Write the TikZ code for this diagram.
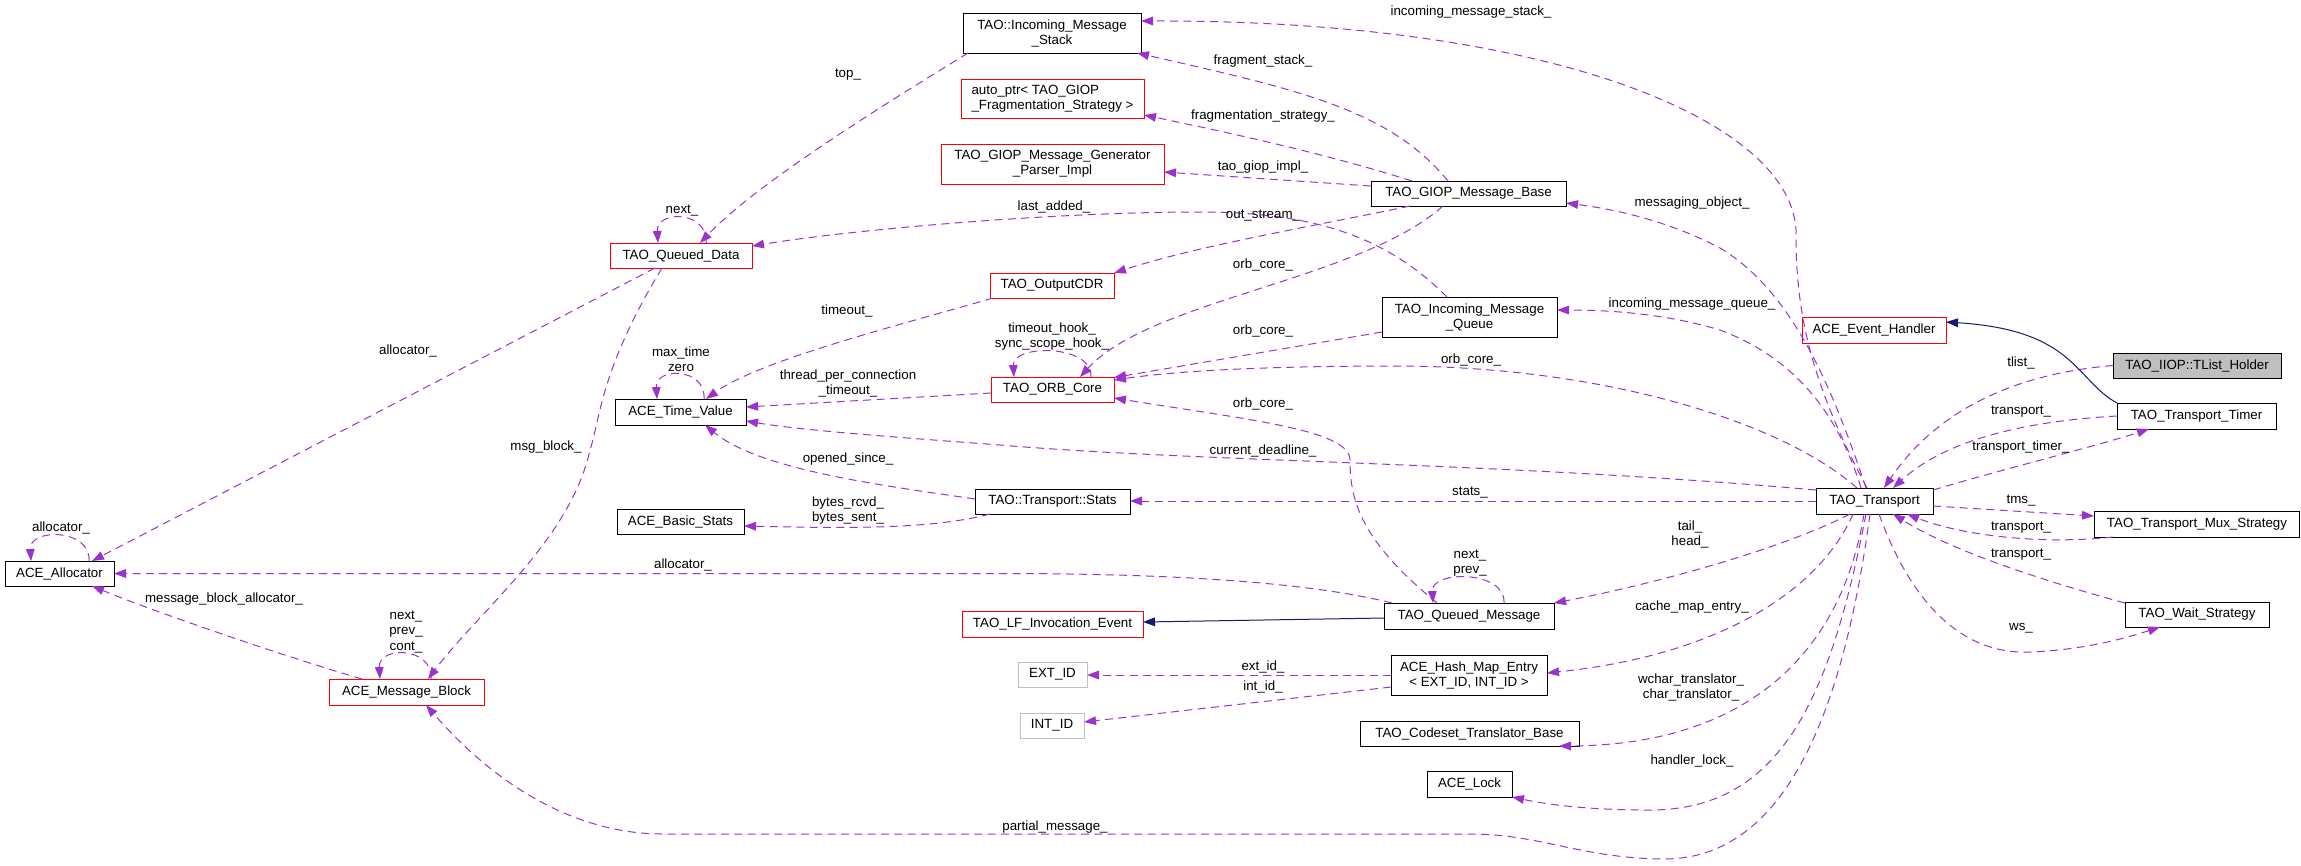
\documentclass[tikz,border=0pt]{standalone}
\usepackage{fontspec}
\setmainfont{Liberation Sans}
\usetikzlibrary{arrows.meta,calc}
\definecolor{edgec}{HTML}{9A32CD}
\definecolor{inhc}{HTML}{191970}
\definecolor{redb}{HTML}{FF0000}
\definecolor{grayb}{HTML}{BFBFBF}
\tikzset{
  box/.style={draw=black, line width=0.75pt, fill=white, inner sep=1pt, align=center},
  rbox/.style={box, draw=redb},
  gbox/.style={box, draw=grayb},
  sz/.style 2 args={minimum width=#1*0.75pt, minimum height=#2*0.75pt},
  dep/.style={draw=edgec, line width=0.75pt, dash pattern=on 6pt off 4pt, -{Triangle[length=9pt,width=6.5pt,fill=edgec]}},
  inh/.style={draw=inhc, line width=0.75pt, -{Triangle[length=9pt,width=6.5pt,fill=inhc]}},
  lbl/.style={inner sep=0pt, align=center}
}
\begin{document}
\begin{tikzpicture}[x=0.75pt,y=-0.75pt, font=\fontsize{10pt}{11.25pt}\selectfont]
\useasboundingbox (0,0) rectangle (2301,865);
% nodes
\node[box, sz={178}{40}] (stack) at (1052,33) {TAO::Incoming\_Message\\\_Stack};
\node[rbox, sz={183}{39}, align=left] (autoptr) at (1052.5,98.5) {auto\_ptr< TAO\_GIOP\\\_Fragmentation\_Strategy >};
\node[rbox, sz={223}{40}] (genparser) at (1052.5,164) {TAO\_GIOP\_Message\_Generator\\\_Parser\_Impl};
\node[box, sz={195}{25}] (giopbase) at (1468.5,193.5) {TAO\_GIOP\_Message\_Base};
\node[rbox, sz={142}{25}] (qdata) at (681,255.5) {TAO\_Queued\_Data};
\node[rbox, sz={124}{25}] (outcdr) at (1052,285.5) {TAO\_OutputCDR};
\node[box, sz={175}{40}] (imq) at (1469.5,317) {TAO\_Incoming\_Message\\\_Queue};
\node[rbox, sz={123}{25}] (orbcore) at (1052.5,389.5) {TAO\_ORB\_Core};
\node[box, sz={131}{26}] (timevalue) at (680.5,412) {ACE\_Time\_Value};
\node[box, sz={127}{25}] (basicstats) at (680.5,521.5) {ACE\_Basic\_Stats};
\node[box, sz={155}{25}] (stats) at (1052.5,501.5) {TAO::Transport::Stats};
\node[box, sz={109}{25}] (allocator) at (59.5,573.5) {ACE\_Allocator};
\node[rbox, sz={155}{26}] (msgblock) at (406.5,692) {ACE\_Message\_Block};
\node[rbox, sz={181}{26}] (lfevent) at (1052.5,624) {TAO\_LF\_Invocation\_Event};
\node[box, sz={170}{26}] (qmsg) at (1469,616) {TAO\_Queued\_Message};
\node[gbox, sz={69}{25}] (extid) at (1052.5,674.5) {EXT\_ID};
\node[box, sz={156}{40}] (hashentry) at (1469,675) {ACE\_Hash\_Map\_Entry\\< EXT\_ID, INT\_ID >};
\node[gbox, sz={64}{25}] (intid) at (1052,725.5) {INT\_ID};
\node[box, sz={219}{25}] (codeset) at (1469.5,733.5) {TAO\_Codeset\_Translator\_Base};
\node[box, sz={85}{26}] (acelock) at (1469.5,784) {ACE\_Lock};
\node[rbox, sz={144}{26}] (eventhandler) at (1874,330) {ACE\_Event\_Handler};
\node[box, sz={168}{25}, fill=grayb] (tlist) at (2197,365.5) {TAO\_IIOP::TList\_Holder};
\node[box, sz={159}{26}] (timer) at (2196.5,416) {TAO\_Transport\_Timer};
\node[box, sz={117}{26}] (transport) at (1874.5,501) {TAO\_Transport};
\node[box, sz={205}{26}] (mux) at (2197,524) {TAO\_Transport\_Mux\_Strategy};
\node[box, sz={144}{25}] (wait) at (2197,614.5) {TAO\_Wait\_Strategy};
% edges
\draw[dep] ($(transport)+(-7.5,-13)$) .. controls (1815,390) and (1795,320) .. (1796,230) .. controls (1790,120) and (1550,20) .. ($(stack)+(89,-12)$);
\draw[dep] ($(giopbase)+(-20.5,-12.5)$) .. controls (1390,110) and (1300,90) .. ($(stack)+(85,20)$);
\draw[dep] ($(giopbase)+(-56.5,-12.5)$) .. controls (1330,155) and (1240,135) .. ($(autoptr)+(91.5,16.5)$);
\draw[dep] ($(giopbase)+(-97.5,-7.5)$) -- ($(genparser)+(111.5,8)$);
\draw[dep] ($(giopbase)+(-58.5,12.5)$) .. controls (1320,225) and (1200,245) .. ($(outcdr)+(62,-12.5)$);
\draw[dep] ($(giopbase)+(-25.5,12.5)$) .. controls (1360,280) and (1150,300) .. ($(orbcore)+(27.5,-12.5)$);
\draw[dep] ($(imq)+(-22.5,-20)$) .. controls (1390,240) and (1320,212) .. (1200,212) .. controls (1050,212) and (850,230) .. ($(qdata)+(71,-9.5)$);
\draw[dep] ($(imq)+(-87.5,15)$) -- ($(orbcore)+(61.5,-12)$);
\draw[dep] ($(transport)+(-17.5,-13)$) .. controls (1780,420) and (1600,367) .. (1400,366) .. controls (1250,366) and (1170,372) .. ($(orbcore)+(61.5,-9.5)$);
\draw[dep] ($(qmsg)+(-32,-13)$) .. controls (1360,540) and (1350,500) .. (1350,460) .. controls (1350,430) and (1250,420) .. ($(orbcore)+(61.5,8.5)$);
\draw[dep] ($(orbcore)+(-61.5,3.5)$) -- ($(timevalue)+(65.5,-5)$);
\draw[dep] ($(outcdr)+(-59,12.5)$) .. controls (900,325) and (760,360) .. ($(timevalue)+(25.5,-13)$);
\draw[dep] ($(transport)+(-58.5,-11)$) .. controls (1500,462) and (1200,462) .. (1000,445) .. controls (880,436) and (800,430) .. ($(timevalue)+(65.5,9)$);
\draw[dep] ($(stats)+(-77.5,-2.5)$) .. controls (880,485) and (760,470) .. ($(timevalue)+(24.5,13)$);
\draw[dep] ($(stats)+(-62.5,12.5)$) .. controls (930,530) and (840,528) .. ($(basicstats)+(63.5,4.5)$);
\draw[dep] ($(transport)+(-58.5,0)$) -- ($(stats)+(77.5,-0.5)$);
\draw[dep] ($(qdata)+(-26,12.5)$) -- ($(allocator)+(32.5,-12.5)$);
\draw[dep] ($(qdata)+(-19,12.5)$) .. controls (600,370) and (600,420) .. (590,450) .. controls (570,540) and (480,610) .. ($(msgblock)+(21.5,-13)$);
\draw[dep] ($(stack)+(-84,20)$) .. controls (900,95) and (760,180) .. ($(qdata)+(19,-12.5)$);
% self loops
\draw[dep] ($(qdata)+(25,-12.5)$) .. controls ($(qdata)+(27,-45.5)$) and ($(qdata)+(-25,-45.5)$) .. ($(qdata)+(-23,-12.5)$);
\draw[dep] ($(timevalue)+(23.5,-13)$) .. controls ($(timevalue)+(25.5,-45)$) and ($(timevalue)+(-25.5,-45)$) .. ($(timevalue)+(-23.5,-13)$);
\draw[dep] ($(allocator)+(29.5,-12.5)$) .. controls ($(allocator)+(31.5,-45.5)$) and ($(allocator)+(-30.5,-45.5)$) .. ($(allocator)+(-28.5,-12.5)$);
\draw[dep] ($(msgblock)+(24.5,-13)$) .. controls ($(msgblock)+(26.5,-46)$) and ($(msgblock)+(-28.5,-46)$) .. ($(msgblock)+(-26.5,-13)$);
\draw[dep] ($(orbcore)+(38.5,-12.5)$) .. controls ($(orbcore)+(40.5,-45.5)$) and ($(orbcore)+(-40.5,-45.5)$) .. ($(orbcore)+(-38.5,-12.5)$);
\draw[dep] ($(qmsg)+(35,-13)$) .. controls ($(qmsg)+(37,-46)$) and ($(qmsg)+(-38,-46)$) .. ($(qmsg)+(-36,-13)$);
% more edges
\draw[dep] ($(qmsg)+(-77,-13)$) .. controls (1300,580) and (1150,573.5) .. (1000,573.5) -- ($(allocator)+(54.5,0)$);
\draw[dep] ($(msgblock)+(-44.5,-13)$) .. controls (280,655) and (150,610) .. ($(allocator)+(32.5,12.5)$);
\draw[dep] ($(transport)+(-4.5,13)$) .. controls (1845,700) and (1790,860) .. (1663,859) .. controls (1580,858) and (1540,834) .. (1470,834) -- (663,834) .. controls (580,834) and (500,790) .. ($(msgblock)+(19.5,13)$);
\draw[inh] ($(qmsg)+(-85,2)$) -- ($(lfevent)+(90.5,-2)$);
\draw[dep] ($(transport)+(-24.5,13)$) .. controls (1780,550) and (1650,585) .. ($(qmsg)+(85,-13)$);
\draw[dep] ($(hashentry)+(-78,0)$) -- ($(extid)+(34.5,0.5)$);
\draw[dep] ($(hashentry)+(-78,12)$) -- ($(intid)+(32,-3.5)$);
\draw[dep] ($(transport)+(-21.5,13)$) .. controls (1820,590) and (1720,655) .. ($(hashentry)+(78,-2)$);
\draw[dep] ($(transport)+(-10.5,13)$) .. controls (1840,660) and (1740,745) .. ($(codeset)+(89.5,12.5)$);
\draw[dep] ($(transport)+(-8.5,13)$) .. controls (1830,700) and (1780,810) .. (1650,810) .. controls (1590,810) and (1550,805) .. ($(acelock)+(42.5,13)$);
\draw[dep] ($(transport)+(-8.5,-13)$) .. controls (1830,380) and (1790,290) .. (1720,248) .. controls (1670,222) and (1620,210) .. ($(giopbase)+(97.5,9.5)$);
\draw[dep] ($(transport)+(-13.5,-13)$) .. controls (1840,420) and (1800,360) .. (1720,330) .. controls (1660,312) and (1600,310) .. ($(imq)+(87.5,-7)$);
\draw[dep] ($(tlist)+(-84,0)$) .. controls (2000,375) and (1930,420) .. ($(transport)+(9.5,-13)$);
\draw[dep] ($(timer)+(-79.5,0)$) .. controls (2010,422) and (1940,445) .. ($(transport)+(18.5,-13)$);
\draw[dep] ($(transport)+(58.5,-11)$) .. controls (2000,470) and (2100,445) .. ($(timer)+(-47.5,13)$);
\draw[dep] ($(transport)+(58.5,5)$) -- ($(mux)+(-103,-8)$);
\draw[dep] ($(mux)+(-84,13)$) .. controls (2040,545) and (1960,535) .. ($(transport)+(32.5,13)$);
\draw[dep] ($(wait)+(-72,-11.5)$) .. controls (2040,580) and (1950,550) .. ($(transport)+(18.5,13)$);
\draw[dep] ($(transport)+(4.5,13)$) .. controls (1910,600) and (1960,655) .. (2030,652) .. controls (2080,650) and (2120,640) .. ($(wait)+(-37,12.5)$);
\draw[inh] ($(timer)+(-79.5,-13)$) .. controls (2075,380) and (2075,330) .. ($(eventhandler)+(72,-8)$);
% labels
\node[lbl] (l1) at (1471,12) {incoming\_message\_stack\_};
\node[lbl] (l2) at (1263,61) {fragment\_stack\_};
\node[lbl] (l3) at (848,75) {top\_};
\node[lbl] (l4) at (1263,116) {fragmentation\_strategy\_};
\node[lbl] (l5) at (1263,167) {tao\_giop\_impl\_};
\node[lbl] (l6) at (1692,203) {messaging\_object\_};
\node[lbl] (l7) at (682,211) {next\_};
\node[lbl] (l8) at (1054,207) {last\_added\_};
\node[lbl] (l9) at (1263,216) {out\_stream\_};
\node[lbl] (l10) at (1263,265) {orb\_core\_};
\node[lbl] (l11) at (1692,304) {incoming\_message\_queue\_};
\node[lbl] (l12) at (847,311) {timeout\_};
\node[lbl] (l13) at (1052,336.5) {timeout\_hook\_\\sync\_scope\_hook\_};
\node[lbl] (l14) at (1263,331) {orb\_core\_};
\node[lbl] (l15) at (408,351) {allocator\_};
\node[lbl] (l16) at (681,359.5) {max\_time\\zero};
\node[lbl] (l17) at (1471,360) {orb\_core\_};
\node[lbl] (l18) at (2021,363) {tlist\_};
\node[lbl] (l19) at (848,383.5) {thread\_per\_connection\\\_timeout\_};
\node[lbl] (l20) at (1263,404) {orb\_core\_};
\node[lbl] (l21) at (2021,412) {transport\_};
\node[lbl] (l22) at (546,447) {msg\_block\_};
\node[lbl] (l23) at (2021,447) {transport\_timer\_};
\node[lbl] (l24) at (1263,451) {current\_deadline\_};
\node[lbl] (l25) at (848,459) {opened\_since\_};
\node[lbl] (l26) at (1470,493) {stats\_};
\node[lbl] (l27) at (2021,501) {tms\_};
\node[lbl] (l28) at (848,511) {bytes\_rcvd\_\\bytes\_sent\_};
\node[lbl] (l29) at (61,528) {allocator\_};
\node[lbl] (l30) at (1690,534) {tail\_\\head\_};
\node[lbl] (l31) at (2021,528) {transport\_};
\node[lbl] (l32) at (2021,555) {transport\_};
\node[lbl] (l33) at (1470,563.5) {next\_\\prev\_};
\node[lbl] (l34) at (683,565) {allocator\_};
\node[lbl] (l35) at (224,599) {message\_block\_allocator\_};
\node[lbl] (l36) at (1692,607) {cache\_map\_entry\_};
\node[lbl] (l37) at (406,632) {next\_\\prev\_\\cont\_};
\node[lbl] (l38) at (2021,628) {ws\_};
\node[lbl] (l39) at (1263,667) {ext\_id\_};
\node[lbl] (l40) at (1691,687.5) {wchar\_translator\_\\char\_translator\_};
\node[lbl] (l41) at (1263,687) {int\_id\_};
\node[lbl] (l42) at (1692,761) {handler\_lock\_};
\node[lbl] (l43) at (1055,827) {partial\_message\_};
\end{tikzpicture}
\end{document}
